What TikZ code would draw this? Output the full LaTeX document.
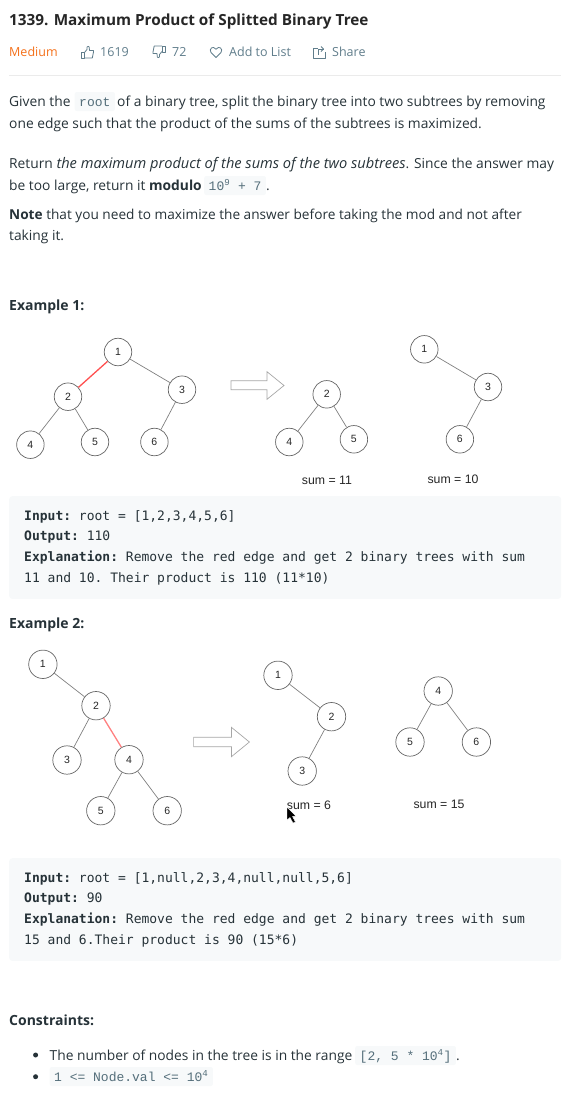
\documentclass[tikz,border=0pt]{standalone}
\usepackage{fontspec}
\setmainfont{Open Sans}
\setmonofont{DejaVu Sans Mono}
\newfontfamily\chipfont{Liberation Mono}
\newfontfamily\figfont{Liberation Sans}
\usetikzlibrary{arrows.meta,positioning,calc,shapes.geometric}
\definecolor{inkdark}{HTML}{263238}
\definecolor{inkgrey}{HTML}{607D8B}
\definecolor{chipink}{HTML}{546E7A}
\definecolor{panel}{HTML}{F7F9FA}
\definecolor{hardness}{HTML}{F4701A}
\definecolor{redone}{HTML}{FF5050}
\definecolor{redtwo}{HTML}{FF8080}
\tikzset{
thumbicon/.pic={
\draw[pic actions] (-6,0) rectangle (-3,6);
\draw[pic actions] (-3,0.5)--(-0.5,-2.5)--(-0.5,-5) .. controls (1.5,-7) and (2.5,-4) .. (2,-1.5)--(6,-1.5)--(6,0)--(4.8,6)--(-3,6);
},
hearticon/.pic={
\draw[pic actions] (0,5.5)--(-5,0.5) .. controls (-7.5,-3) and (-3,-7) .. (0,-2.8) .. controls (3,-7) and (7.5,-3) .. (5,0.5)--cycle;
},
shareicon/.pic={
\draw[pic actions] (-1.5,-4)--(-6,-4)--(-6,6)--(6,6)--(6,0);
\draw[pic actions] (-1,3)--(-1,-3)--(4.5,-3);
\draw[pic actions] (2,-5.5)--(4.5,-3)--(2,-0.5);
}}
\begin{document}
\begin{tikzpicture}[x=1pt,y=-1pt,
para/.style={anchor=base west,inner sep=0pt,text=inkdark,font=\fontsize{13.8}{16}\selectfont},
head/.style={para,font=\fontsize{14}{16}\selectfont\bfseries},
meta/.style={anchor=base west,inner sep=0pt,text=inkgrey,font=\fontsize{12.5}{15}\selectfont},
chip/.style={anchor=base west,fill=panel,rounded corners=2pt,inner xsep=4.5pt,inner ysep=0pt,text height=14pt,text depth=5pt,text=chipink,font=\fontsize{13}{15}\chipfont},
codebox/.style={anchor=north west,fill=panel,rounded corners=3pt,inner xsep=15pt,inner ysep=0pt,text width=522pt,minimum height=102.7pt,align=flush left,text=inkdark,font=\fontsize{13}{20.65}\ttfamily},
tnode/.style={circle,draw=black!60,fill=white,line width=0.7pt,minimum size=27.5pt,inner sep=0pt,text=black!85,font=\fontsize{10.5}{12}\figfont},
sumlab/.style={anchor=base,inner sep=0pt,text=black!85,font=\fontsize{12.3}{14}\figfont},
edge/.style={draw=black!50,line width=0.7pt},
rededge/.style={line width=1.3pt},
icon/.style={draw=inkgrey,line width=0.8pt,line join=round},
bigarrow/.style={draw=black!35,fill=white,line width=0.7pt}]
\useasboundingbox (0,0) rectangle (575,1096);
% header
\node[head,font=\fontsize{15.3}{18}\selectfont\bfseries,text=black!85] (title) at (9,25) {1339. Maximum Product of Splitted Binary Tree};
\node[meta,text=hardness] (medium) at (9,56) {Medium};
\pic[icon] at (87.5,52) {thumbicon};
\node[meta] (likes) at (100,56) {1619};
\pic[icon,rotate=180] at (159,52) {thumbicon};
\node[meta] (dislikes) at (172,56) {72};
\pic[icon] at (216,52) {hearticon};
\node[meta] (addlist) at (229,56) {Add to List};
\pic[icon] at (319,52) {shareicon};
\node[meta] (share) at (332,56) {Share};
\coordinate (ruleleft) at (9,75);
\coordinate (ruleright) at (561,75);
\draw[black!8,line width=0.8pt] (ruleleft)--(ruleright);
% statement
\node[para] (given) at (9,106) {Given the};
\node[chip] (root) at (74.5,106) {root};
\node[para] (givenrest) at (117,106) {of a binary tree, split the binary tree into two subtrees by removing};
\node[para] (oneedge) at (9,128) {one edge such that the product of the sums of the subtrees is maximized.};
\node[para] (ret) at (9,168.5) {Return \textit{\fontsize{14.6}{16}\selectfont the maximum product of the sums of the two subtrees}. Since the answer may};
\node[para] (toolarge) at (9,190) {be too large, return it \textbf{modulo}};
\node[chip] (modulus) at (204,190) {10\textsuperscript{9} + 7};
\node[para] (dot) at (266,190) {.};
\node[para,font=\fontsize{13.65}{16}\selectfont] (note) at (9,219) {\textbf{Note} that you need to maximize the answer before taking the mod and not after};
\node[para] (takingit) at (9,240) {taking it.};
% example 1
\node[head] (exone) at (9,310) {Example 1:};
\node[tnode] (a1) at (118,352) {1};
\node[tnode] (a2) at (68,396.7) {2};
\node[tnode] (a3) at (182,389.7) {3};
\node[tnode] (a4) at (30.4,444.7) {4};
\node[tnode] (a5) at (95,442) {5};
\node[tnode] (a6) at (154.4,442) {6};
\draw[edge,draw=redone,rededge] (a1)--(a2);
\draw[edge] (a1)--(a3);
\draw[edge] (a2)--(a4);
\draw[edge] (a2)--(a5);
\draw[edge] (a3)--(a6);
\draw[bigarrow] (231,380.7)--(267,380.7)--(267,371.7)--(284,385.5)--(267,399.3)--(267,389.7)--(231,389.7)--cycle;
\node[tnode] (b2) at (326.7,394.3) {2};
\node[tnode] (b4) at (289.3,442) {4};
\node[tnode] (b5) at (353.9,439.3) {5};
\node[tnode] (c1) at (424.3,349.3) {1};
\node[tnode] (c3) at (488,387) {3};
\node[tnode] (c6) at (459.9,439.3) {6};
\draw[edge] (b2)--(b4);
\draw[edge] (b2)--(b5);
\draw[edge] (c1)--(c3);
\draw[edge] (c3)--(c6);
\node[sumlab] (sumb) at (327,484) {sum = 11};
\node[sumlab] (sumc) at (453,483) {sum = 10};
\node[codebox] (codeone) at (9,496) {\textbf{Input:} root = [1,2,3,4,5,6]\\\textbf{Output:} 110\\\textbf{Explanation:} Remove the red edge and get 2 binary trees with sum\\11 and 10. Their product is 110 (11*10)};
% example 2
\node[head] (extwo) at (9,628) {Example 2:};
\node[tnode,minimum size=28.4pt] (d1) at (42.9,664.3) {1};
\node[tnode,minimum size=28.4pt] (d2) at (96,705.7) {2};
\node[tnode,minimum size=28.4pt] (d3) at (67,760) {3};
\node[tnode,minimum size=28.4pt] (d4) at (129,759.7) {4};
\node[tnode,minimum size=28.4pt] (d5) at (100.8,810.7) {5};
\node[tnode,minimum size=28.4pt] (d6) at (167.2,810.7) {6};
\draw[edge] (d1)--(d2);
\draw[edge] (d2)--(d3);
\draw[edge,draw=redtwo,rededge] (d2)--(d4);
\draw[edge] (d4)--(d5);
\draw[edge] (d4)--(d6);
\draw[bigarrow] (193.6,737.3)--(231.4,737.3)--(231.4,727.3)--(249.4,742)--(231.4,756.7)--(231.4,746.7)--(193.6,746.7)--cycle;
\node[tnode,minimum size=28.4pt] (e1) at (278,675.3) {1};
\node[tnode,minimum size=28.4pt] (e2) at (331.5,716.7) {2};
\node[tnode,minimum size=28.4pt] (e3) at (302.2,771) {3};
\node[tnode,minimum size=28.4pt] (f4) at (438.2,691) {4};
\node[tnode,minimum size=28.4pt] (f5) at (410,742) {5};
\node[tnode,minimum size=28.4pt] (f6) at (476.4,742) {6};
\draw[edge] (e1)--(e2);
\draw[edge] (e2)--(e3);
\draw[edge] (f4)--(f5);
\draw[edge] (f4)--(f6);
\node[sumlab] (sume) at (309,809) {sum = 6};
\node[sumlab] (sumf) at (439,808.7) {sum = 15};
\fill[black,draw=white,line width=0.4pt] (287,807)--(287,820)--(290,817.5)--(293,823)--(295.5,822)--(292.5,816.5)--(296,816)--cycle;
\node[codebox] (codetwo) at (9,858) {\textbf{Input:} root = [1,null,2,3,4,null,null,5,6]\\\textbf{Output:} 90\\\textbf{Explanation:} Remove the red edge and get 2 binary trees with sum\\15 and 6.Their product is 90 (15*6)};
% constraints
\node[head] (constraints) at (9,1025) {Constraints:};
\node[circle,fill=inkdark,minimum size=5pt,inner sep=0pt] (bulone) at (35.6,1055) {};
\node[circle,fill=inkdark,minimum size=5pt,inner sep=0pt] (bultwo) at (35.6,1076.7) {};
\node[para] (nodecount) at (49.5,1060) {The number of nodes in the tree is in the range};
\node[chip] (range) at (355,1060) {[2, 5 * 10\textsuperscript{4}]};
\node[para] (rangedot) at (456,1060) {.};
\node[chip] (valrange) at (49.5,1081) {1 <= Node.val <= 10\textsuperscript{4}};
\end{tikzpicture}
\end{document}
